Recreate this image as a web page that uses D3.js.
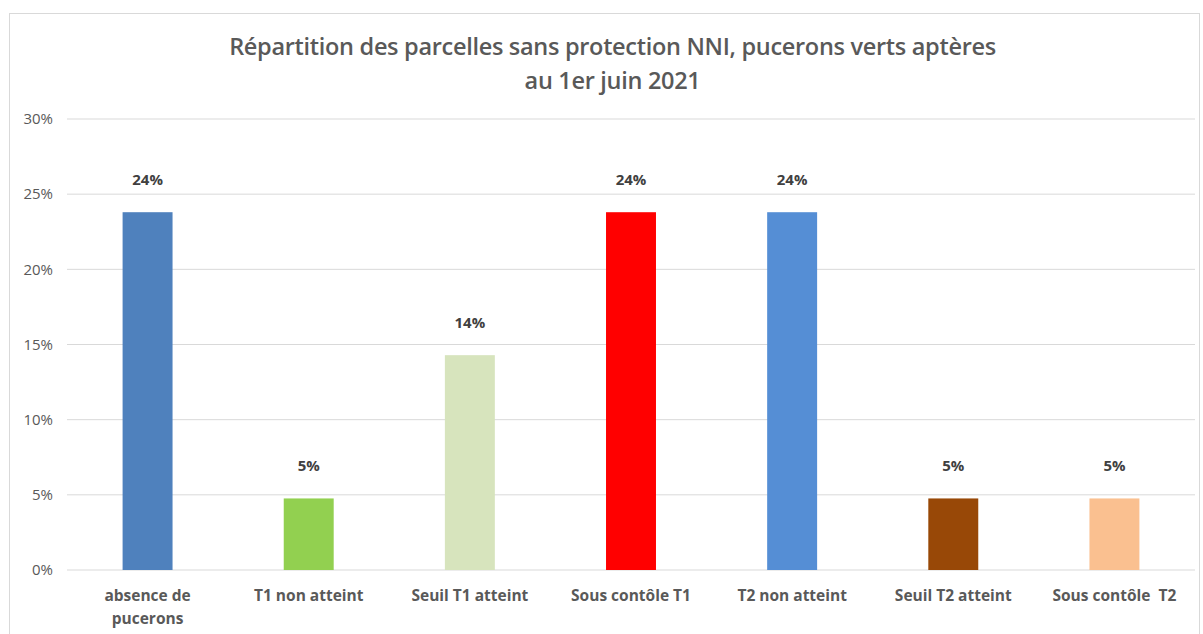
<!DOCTYPE html>
<html>
  <head>
    <meta charset="utf-8" />
    <script src="https://d3js.org/d3.v7.min.js"></script>
    <style>
      body { margin: 0; background: #fff; }
      text { font-family: "Open Sans", "DejaVu Sans", sans-serif; }
    </style>
  </head>
  <body>
    <div id="my_chart"></div>
    <script>
      // data: share of plots (21 plots in total)
      const categories = [
        ["absence de", "pucerons"],
        ["T1 non atteint"],
        ["Seuil T1 atteint"],
        ["Sous contôle T1"],
        ["T2 non atteint"],
        ["Seuil T2 atteint"],
        ["Sous contôle  T2"],
      ];
      const values = [0.238, 0.0476, 0.1429, 0.238, 0.238, 0.0476, 0.0476];
      const barColors = ["#4F81BD", "#92D050", "#D7E4BD", "#FF0000", "#558ED5", "#984807", "#FAC090"];
      const yTicks = [0, 0.05, 0.1, 0.15, 0.2, 0.25, 0.3];
      const titleLines = ["Répartition des parcelles sans protection NNI, pucerons verts aptères", "au 1er juin 2021"];

      const W = 1203, H = 634;
      const margin = { top: 119, right: 8, bottom: 64, left: 67 },
        width = W - margin.left - margin.right,
        height = H - margin.top - margin.bottom;

      const root = d3.select("#my_chart").append("svg")
        .attr("width", W).attr("height", H);

      // chart frame
      root.append("rect")
        .attr("x", 9.5).attr("y", 13.5)
        .attr("width", 1190).attr("height", 640)
        .attr("fill", "#fff").attr("stroke", "#d9d9d9");

      root.selectAll(".title").data(titleLines).enter().append("text")
        .attr("x", W / 2 + 11)
        .attr("y", (d, i) => 55 + i * 34)
        .attr("text-anchor", "middle")
        .attr("fill", "#595959")
        .style("font-size", "23.5px")
        .style("font-weight", 600)
        .style("letter-spacing", "-0.3px")
        .text(d => d);

      const svg = root.append("g")
        .attr("transform", "translate(" + margin.left + "," + margin.top + ")");

      const x = d3.scaleBand()
        .domain(d3.range(categories.length))
        .range([0, width])
        .paddingInner(0.69)
        .paddingOuter(0.345);

      const y = d3.scaleLinear().domain([0, 0.3]).range([height, 0]);

      // gridlines
      svg.selectAll(".grid").data(yTicks).enter().append("line")
        .attr("x1", 0).attr("x2", width)
        .attr("y1", d => y(d)).attr("y2", d => y(d))
        .attr("stroke", "#d9d9d9").attr("stroke-width", 1);

      // y axis labels
      const yAxis = svg.append("g")
        .call(d3.axisLeft(y).tickValues(yTicks).tickFormat(d3.format(".0%")).tickSize(0).tickPadding(14));
      yAxis.select(".domain").remove();
      yAxis.selectAll("text").attr("fill", "#595959").style("font-size", "15px")
        .style("font-family", "'Open Sans', sans-serif");

      // bars
      svg.selectAll(".bar").data(values).enter().append("rect")
        .attr("x", (d, i) => x(i))
        .attr("y", d => y(d))
        .attr("width", x.bandwidth())
        .attr("height", d => height - y(d))
        .attr("fill", (d, i) => barColors[i]);

      // value labels
      svg.selectAll(".val").data(values).enter().append("text")
        .attr("x", (d, i) => x(i) + x.bandwidth() / 2)
        .attr("y", d => y(d) - 27)
        .attr("text-anchor", "middle")
        .attr("fill", "#404040")
        .style("font-size", "15px")
        .style("font-weight", "bold")
        .text(d => d3.format(".0%")(d));

      // category labels
      const cat = svg.selectAll(".cat").data(categories).enter().append("text")
        .attr("text-anchor", "middle")
        .attr("fill", "#595959")
        .style("font-size", "15.5px")
        .style("font-weight", "bold")
        .style("white-space", "pre")
        .attr("transform", (d, i) => "translate(" + (x(i) + x.bandwidth() / 2) + "," + (height + 31) + ")");
      cat.selectAll("tspan").data(d => d).enter().append("tspan")
        .attr("x", 0)
        .attr("dy", (d, i) => (i === 0 ? 0 : 23))
        .text(d => d);
    </script>
  </body>
</html>
